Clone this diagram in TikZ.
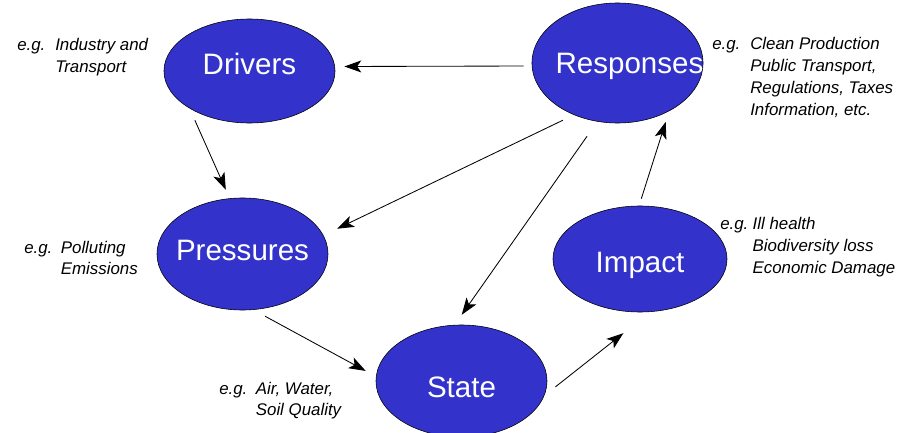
\documentclass[tikz,border=0pt]{standalone}
\usepackage{fontspec}
\setsansfont{Liberation Sans}
\usepackage{tikz}
\usetikzlibrary{shapes,arrows.meta,positioning}
\definecolor{dpsirblue}{RGB}{51,51,204}

% hanging "e.g." label
\newcommand{\eglines}[2]{\begin{tabular}[t]{@{}l@{\hspace{#1}}l@{}}e.g. & #2\end{tabular}}

\begin{document}
\begin{tikzpicture}[x=0.025cm, y=-0.025cm,
  blob/.style={ellipse, draw=black, fill=dpsirblue, text=white, inner sep=0pt,
    text height=15pt, text depth=0pt,
    font=\sffamily\fontsize{21}{25}\selectfont},
  eg/.style={anchor=base west, inner sep=0pt,
    font=\sffamily\itshape\fontsize{12}{15.6}\selectfont},
  arr/.style={-{Stealth[length=12pt,width=8.5pt,inset=3pt]}, line width=0.6pt}]
  \useasboundingbox (0,0) rectangle (904,433);

  % the five stages
  \node[blob, minimum width=4.275cm, minimum height=2.6cm] (drivers) at (249.5,71) {\makebox[0pt]{\raisebox{5pt}{Drivers}}};
  \node[blob, minimum width=4.275cm, minimum height=3.0cm] (responses) at (617.5,63) {\makebox[0pt]{\hspace*{17pt}Responses}};
  \node[blob, minimum width=4.275cm, minimum height=2.8cm] (pressures) at (242.5,254) {\makebox[0pt]{\raisebox{3pt}{Pressures}}};
  \node[blob, minimum width=4.35cm, minimum height=2.65cm] (impact) at (640,259) {\makebox[0pt]{\raisebox{-2pt}{Impact}}};
  \node[blob, minimum width=4.275cm, minimum height=2.8cm] (state) at (461.5,381) {\makebox[0pt]{\raisebox{-4pt}{State}}};

  % examples
  \node[eg] (drivers-eg) at (17,50.5) {\eglines{7pt}{Industry and\\ & Transport}};
  \node[eg] (responses-eg) at (712,50) {\eglines{7pt}{Clean Production\\ & Public Transport,\\ & Regulations, Taxes\\ & Information, etc.}};
  \node[eg] (pressures-eg) at (24,253) {\eglines{6pt}{Polluting\\ & Emissions}};
  \node[eg] (impact-eg) at (720,230) {\eglines{3pt}{Ill health\\ & Biodiversity loss\\ & Economic Damage}};
  \node[eg] (state-eg) at (219,394) {\eglines{6pt}{Air, Water,\\ & Soil Quality}};

  % links
  \draw[arr, shorten <=5.8pt, shorten >=6.7pt] (responses.182) -- (drivers.3);
  \draw[arr, shorten <=9.2pt, shorten >=6.7pt] (drivers.212) -- (pressures.103);
  \draw[arr, shorten <=8.7pt, shorten >=10.8pt] (responses.230) -- (pressures.13);
  \draw[arr, shorten <=12.7pt, shorten >=8.8pt] (responses.251) -- (state.97);
  \draw[arr, shorten <=9.6pt, shorten >=8.3pt] (pressures.281) -- (state.177);
  \draw[arr, shorten <=10pt, shorten >=24.4pt] (state.350) -- (impact.281);
  \draw[arr, shorten <=5.2pt, shorten >=8pt] (impact.91) -- (responses.317);
\end{tikzpicture}
\end{document}
